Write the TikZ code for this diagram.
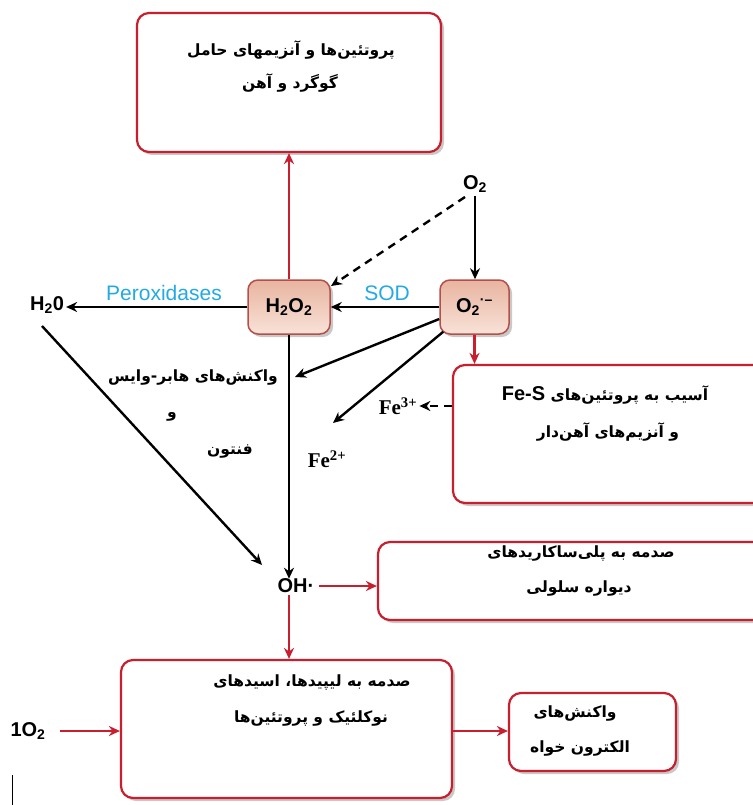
\documentclass[tikz,border=0pt]{standalone}
\usepackage{fontspec}
\setmainfont{Liberation Sans}
\newfontfamily\fa[Script=Arabic]{DejaVu Sans}
\newfontfamily\tms{Liberation Serif}
\TeXXeTstate=1
\usetikzlibrary{arrows.meta,shadows}
\definecolor{boxred}{RGB}{200,30,45}
\definecolor{chemb}{RGB}{180,80,75}
\definecolor{chemtop}{RGB}{232,180,160}
\definecolor{chembot}{RGB}{248,226,216}
\definecolor{cyanlbl}{RGB}{35,170,230}
\tikzset{
  redbox/.style={draw=boxred, line width=2.2pt, rounded corners=12pt, fill=white,
    drop shadow={shadow xshift=3pt, shadow yshift=-3pt, opacity=0.35, fill=black!60}},
  chembox/.style={draw=chemb, line width=1.5pt, rounded corners=10pt, top color=chemtop, bottom color=chembot,
    drop shadow={shadow xshift=3pt, shadow yshift=-3pt, opacity=0.35, fill=black!60},
    font=\bfseries\fontsize{20}{22}\selectfont},
  fatext/.style={font=\fa\bfseries\fontsize{15.5}{17}\selectfont, inner sep=0pt},
  blk/.style={draw=black, line width=2.4pt, -{Stealth[length=11pt,width=10pt]}},
  rdarrow/.style={draw=boxred, line width=2.4pt, -{Stealth[length=11pt,width=10pt]}},
  lbl/.style={text=cyanlbl, font=\fontsize{21}{23}\selectfont, inner sep=0pt},
  chem/.style={font=\bfseries\fontsize{20}{22}\selectfont, inner sep=0pt},
  fe/.style={font=\tms\bfseries\fontsize{21}{23}\selectfont, inner sep=0pt}
}
\begin{document}
\begin{tikzpicture}[x=1pt,y=-1pt]
\useasboundingbox[fill=white] (0,0) rectangle (752,805);
% boxes
\node[redbox, minimum width=304pt, minimum height=139pt] (topbox) at (289,82.5) {};
\node[fatext] (t1) at (291,50) {\beginR پروتئین‌ها و آنزیمهای حامل\endR};
\node[fatext] (t2) at (290,83) {\beginR گوگرد و آهن\endR};

\node[redbox, minimum width=317pt, minimum height=138pt] (fesbox) at (611.5,434) {};
\node[fatext] (fes1) at (605,395) {\beginR آسیب به پروتئین‌های \beginL{\rmfamily\bfseries\fontsize{20}{22}\selectfont Fe-S}\endL\endR};
\node[fatext] (fes2) at (608,432) {\beginR و آنزیم‌های آهن‌دار\endR};

\node[redbox, minimum width=392pt, minimum height=78pt] (ohbox) at (574,581) {};
\node[fatext] (oh1) at (581,553) {\beginR صدمه به پلی‌ساکاریدهای\endR};
\node[fatext] (oh2) at (579,588) {\beginR دیواره سلولی\endR};

\node[redbox, minimum width=331pt, minimum height=138pt] (botbox) at (286.5,729) {};
\node[fatext] (b1) at (312,682) {\beginR صدمه به لیپیدها، اسیدهای\endR};
\node[fatext] (b2) at (311,718) {\beginR نوکلئیک و پروتئین‌ها\endR};

\node[redbox, minimum width=167pt, minimum height=78pt] (ebox) at (592.5,732) {};
\node[fatext] (e1) at (575,713) {\beginR واکنش‌های\endR};
\node[fatext] (e2) at (580,748) {\beginR الکترون خواه\endR};

% chemical species
\node[chembox, minimum width=82pt, minimum height=54pt] (h2o2) at (289,307) {H\textsubscript{2}O\textsubscript{2}};
\node[chembox, minimum width=69pt, minimum height=54pt] (sup) at (474.5,307) {O\textsubscript{2}\textsuperscript{·–}};
\node[chem] (o2) at (475,184) {O\textsubscript{2}};
\node[chem] (h2o) at (47,305) {H\textsubscript{2}0};
\node[lbl] (perox) at (164,293) {Peroxidases};
\node[lbl] (sod) at (387,293) {SOD};
\node[chem] (oh) at (296,586) {OH·};
\node[chem] (singlet) at (28,731) {1O\textsubscript{2}};
\node[fe] (fe3) at (398,406) {Fe\textsuperscript{3+}};
\node[fe] (fe2) at (327,459) {Fe\textsuperscript{2+}};
\node[fatext] (hw1) at (193,378) {\beginR واکنش‌های هابر-وایس\endR};
\node[fatext] (hw2) at (172,417) {\beginR و\endR};
\node[fatext] (hw3) at (230,452) {\beginR فنتون\endR};

% coordinates
\coordinate (hwtip) at (295,377);
\coordinate (fe2tip) at (333,423);
\coordinate (diagstart) at (42,326);
\coordinate (diagend) at (262,565);
\coordinate (dashstart) at (465,197);
\coordinate (dashend) at (331,286);
\coordinate (ohline) at (289,586);
\coordinate (singline) at (60,731);

% connectors
\draw[rdarrow] (h2o2.north) -- (topbox.south);
\draw[blk] ([yshift=-3pt]o2.south) -- (o2.south |- sup.north);
\draw[blk, dash pattern=on 8pt off 6pt] (dashstart) -- (dashend);
\draw[blk] (sup.west) -- (h2o2.east);
\draw[blk] (h2o2.west) -- ([xshift=2pt]h2o2.west -| h2o.east);
\draw[blk] (h2o2.south) -- (h2o2.south |- oh.north);
\draw[blk] (diagstart) -- (diagend);
\draw[blk] ([yshift=-12pt]sup.west) -- (hwtip);
\draw[blk] ([xshift=4pt,yshift=3pt]sup.south west) -- (fe2tip);
\draw[rdarrow] (sup.south) -- (sup.south |- fesbox.north);
\draw[blk, dash pattern=on 8pt off 6pt] (fesbox.west |- fe3) -- ([xshift=2pt]fe3.east);
\draw[rdarrow] ([xshift=4pt]oh.east |- ohline) -- (ohline -| ohbox.west);
\draw[rdarrow] ([yshift=-2pt]h2o2.south |- oh.south) -- (h2o2.south |- botbox.north);
\draw[rdarrow] (singline) -- (singline -| botbox.west);
\draw[rdarrow] (botbox.east |- singline) -- (singline -| ebox.west);
\draw[line width=0.8pt] (12,775) -- (12,805);
\end{tikzpicture}
\end{document}
